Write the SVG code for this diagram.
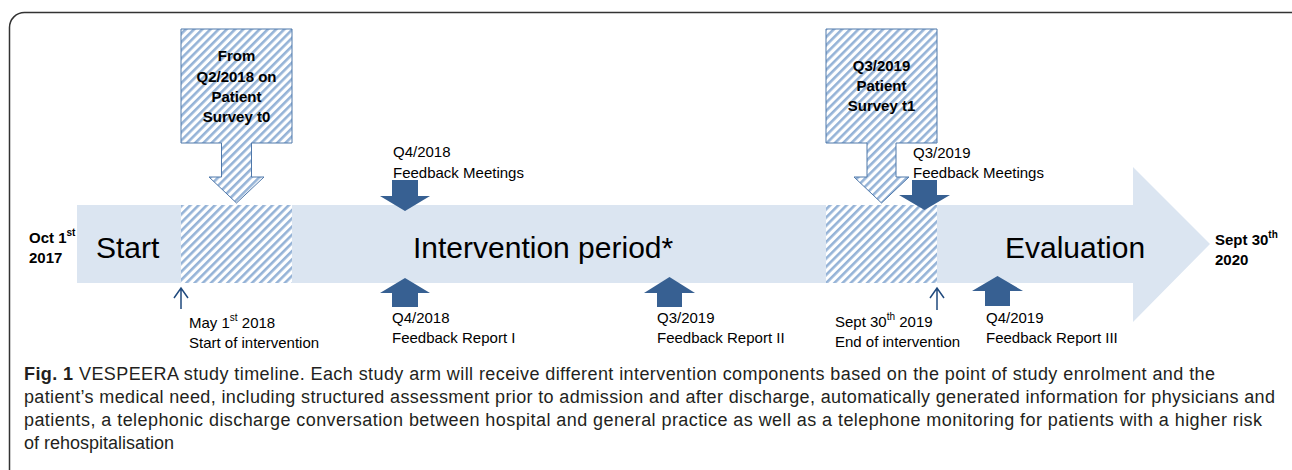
<svg xmlns="http://www.w3.org/2000/svg" width="1292" height="470" viewBox="0 0 1292 470">
<style>
.lbl{font-family:"Liberation Sans",Arial,sans-serif;font-size:15px;fill:#000}
.bold{font-family:"Liberation Sans",Arial,sans-serif;font-size:15px;font-weight:bold;fill:#000}
.big{font-family:"Liberation Sans",Arial,sans-serif;font-size:30px;fill:#000}
.cap{font-family:"Liberation Sans",Arial,sans-serif;font-size:18px;fill:#231f20}
.dark{fill:#376092}
.thin{fill:none;stroke:#1f497d;stroke-width:1.5}
</style>
<defs>
<pattern id="hatch" patternUnits="userSpaceOnUse" width="5.8" height="10" patternTransform="rotate(45)">
<rect width="5.8" height="10" fill="#ffffff"/>
<rect width="2.6" height="10" fill="#95b3d7"/>
</pattern>
</defs>
<rect x="9.5" y="12.5" width="1300" height="520" rx="15" fill="#fff" stroke="#333" stroke-width="1.5"/>
<g id="timeline">
<path d="M77,205 H1133 V167 L1210,244 L1133,322 V283 H77 Z" fill="#dbe5f1"/>
<rect x="181" y="205" width="111" height="78" fill="url(#hatch)"/>
<rect x="826" y="205" width="111" height="78" fill="url(#hatch)"/>
<text class="big" x="96" y="258">Start</text>
<text class="big" x="413" y="258">Intervention period*</text>
<text class="big" x="1005" y="258">Evaluation</text>
</g>
<g id="date-start">
<text class="bold" x="29" y="243">Oct 1<tspan font-size="10" dy="-7">st</tspan></text>
<text class="bold" x="29" y="263">2017</text>
</g>
<g id="date-end">
<text class="bold" x="1215" y="245">Sept 30<tspan font-size="10" dy="-7">th</tspan></text>
<text class="bold" x="1215" y="265">2020</text>
</g>
<g id="survey-t0">
<path d="M181,29 H292 V143 H251.5 V177 H264 L236.5,203 L209,177 H221.5 V143 H181 Z" fill="url(#hatch)" stroke="#4f78aa" stroke-width="1"/>
<text class="bold" text-anchor="middle" x="236.5" y="61">From</text>
<text class="bold" text-anchor="middle" x="236.5" y="82">Q2/2018 on</text>
<text class="bold" text-anchor="middle" x="236.5" y="102">Patient</text>
<text class="bold" text-anchor="middle" x="236.5" y="122">Survey t0</text>
</g>
<g id="survey-t1">
<path d="M826,29 H937 V143 H896 V177 H909 L881.5,203 L854,177 H867 V143 H826 Z" fill="url(#hatch)" stroke="#4f78aa" stroke-width="1"/>
<text class="bold" text-anchor="middle" x="881.5" y="71">Q3/2019</text>
<text class="bold" text-anchor="middle" x="881.5" y="91">Patient</text>
<text class="bold" text-anchor="middle" x="881.5" y="111">Survey t1</text>
</g>
<g id="connectors">
<path class="dark" d="M392,180 H418 V196 H430 L405,211 L380,196 H392 Z"/>
<path class="dark" d="M912,180 H937 V195 H950 L924.5,210 L899,195 H912 Z"/>
<path class="dark" d="M405,278 L430,293 H418 V307 H392 V293 H380 Z"/>
<path class="dark" d="M669.5,277 L695,293 H682 V307 H657 V293 H644 Z"/>
<path class="dark" d="M997.5,276 L1023,291 H1010 V306 H985 V291 H972 Z"/>
<path class="thin" d="M181,309 V288 M174,298 L181,288 L188,298"/>
<path class="thin" d="M937,310 V288 M930,298 L937,288 L944,298"/>
</g>
<g id="fb-meetings-2018">
<text class="lbl" x="393" y="157">Q4/2018</text>
<text class="lbl" x="393" y="178">Feedback Meetings</text>
</g>
<g id="fb-meetings-2019">
<text class="lbl" x="913" y="158">Q3/2019</text>
<text class="lbl" x="913" y="178">Feedback Meetings</text>
</g>
<g id="fb-report-1">
<text class="lbl" x="392" y="323">Q4/2018</text>
<text class="lbl" x="392" y="343">Feedback Report I</text>
</g>
<g id="fb-report-2">
<text class="lbl" x="657" y="323">Q3/2019</text>
<text class="lbl" x="657" y="343">Feedback Report II</text>
</g>
<g id="fb-report-3">
<text class="lbl" x="986" y="323">Q4/2019</text>
<text class="lbl" x="986" y="343">Feedback Report III</text>
</g>
<g id="start-intervention">
<text class="lbl" x="189" y="328">May 1<tspan font-size="10" dy="-7">st</tspan><tspan dy="7"> 2018</tspan></text>
<text class="lbl" x="189" y="348">Start of intervention</text>
</g>
<g id="end-intervention">
<text class="lbl" x="835" y="327">Sept 30<tspan font-size="10" dy="-7">th</tspan><tspan dy="7"> 2019</tspan></text>
<text class="lbl" x="835" y="347">End of intervention</text>
</g>
<g id="caption">
<text class="cap" x="24" y="380" textLength="1191" lengthAdjust="spacing"><tspan font-weight="bold">Fig. 1</tspan> VESPEERA study timeline. Each study arm will receive different intervention components based on the point of study enrolment and the</text>
<text class="cap" x="24" y="403" textLength="1251" lengthAdjust="spacing">patient’s medical need, including structured assessment prior to admission and after discharge, automatically generated information for physicians and</text>
<text class="cap" x="24" y="426" textLength="1238" lengthAdjust="spacing">patients, a telephonic discharge conversation between hospital and general practice as well as a telephone monitoring for patients with a higher risk</text>
<text class="cap" x="24" y="449">of rehospitalisation</text>
</g>
</svg>
